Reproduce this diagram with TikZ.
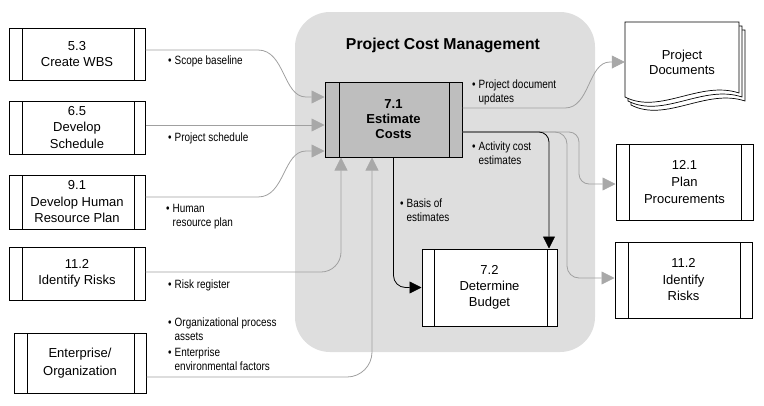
\documentclass[tikz,border=0pt]{standalone}
\usepackage{fontspec}
\setmainfont{Liberation Sans}
\newfontfamily\condfont[FakeStretch=0.83]{Liberation Sans}
\usetikzlibrary{arrows.meta,calc}
\definecolor{bgc}{RGB}{222,222,222}
\definecolor{estc}{RGB}{190,190,190}
\definecolor{linec}{RGB}{160,160,160}
\definecolor{arrc}{RGB}{168,168,168}
\begin{document}
\begin{tikzpicture}[x=1pt,y=-1pt,
  proc/.style={draw=black, line width=1pt, fill=white, minimum width=136pt,
    minimum height=53pt, inner sep=0pt, align=center,
    font=\fontsize{13}{16.5}\selectfont},
  bars/.style 2 args={path picture={
    \draw[line width=1pt]
      ([xshift=#1pt]path picture bounding box.north west) -- ([xshift=#1pt]path picture bounding box.south west)
      ([xshift=-#2pt]path picture bounding box.north east) -- ([xshift=-#2pt]path picture bounding box.south east);}},
  gl/.style={draw=linec, line width=0.8pt, -{Triangle[length=13pt,width=13pt,color=arrc]}},
  bk/.style={draw=black, line width=0.8pt, -{Triangle[length=12pt,width=12pt]}},
  lab/.style={anchor=base west, inner sep=0pt, font=\condfont\fontsize{12}{14.5}\selectfont},
  page/.style={draw=black, line width=0.7pt, fill=white}
]
\useasboundingbox (0,0) rectangle (764,405);

% process group background
\node[fill=bgc, rounded corners=35pt, minimum width=300pt, minimum height=340pt, inner sep=0pt] (pcm) at (445,182) {};
\node[font=\bfseries\fontsize{15.8}{18}\selectfont] (title) at (443,45) {Project Cost Management};

% left inputs
\node[proc,bars={13}{11}, minimum height=52pt] (wbs) at (77,54) {5.3\\Create WBS};
\node[proc,bars={13}{11}] (sched) at (77,127.5) {6.5\\Develop\\Schedule};
\node[proc,bars={13}{11}, minimum height=54pt] (hr) at (77,202) {9.1\\Develop Human\\Resource Plan};
\node[proc,bars={13}{11}] (risks) at (77,273.5) {11.2\\Identify Risks};
\node[proc,bars={13}{12}, minimum width=132pt, minimum height=60pt,
  font=\fontsize{13}{18}\selectfont] (ent) at (80,363) {Enterprise/\\Organization};

% central processes
\node[proc,bars={14}{13}, fill=estc, minimum width=137pt, minimum height=75pt,
  font=\bfseries\fontsize{13}{15}\selectfont] (ec) at (393.5,119.5) {7.1\\Estimate\\Costs};
\node[proc,bars={12}{10}, minimum width=135pt, minimum height=77pt,
  font=\fontsize{13}{16}\selectfont] (db) at (489.5,287.5) {7.2\\Determine\\Budget};

% right outputs
\node[proc,bars={13}{12}, minimum width=137pt, minimum height=76pt,
  font=\fontsize{13}{17}\selectfont] (pp) at (684.5,182) {12.1\\Plan\\Procurements};
\node[proc,bars={13}{12}, minimum width=137pt, minimum height=76pt,
  font=\fontsize{13}{16.5}\selectfont] (ir) at (683.5,280) {11.2\\Identify\\Risks};

% document stack
\draw[page] (631,30) -- (745,30) -- (745,101) .. controls (706,88) and (666,123) .. (631,105) -- cycle;
\draw[page] (628,26) -- (742,26) -- (742,97) .. controls (703,84) and (663,119) .. (628,101) -- cycle;
\draw[page] (625,22) -- (739,22) -- (739,93) .. controls (700,80) and (660,115) .. (625,97) -- cycle;
\node[inner sep=0pt, minimum width=114pt, minimum height=70pt, align=center,
  font=\fontsize{13}{15}\selectfont] (doc) at (682,62) {Project\\Documents};

% inputs to 7.1
\draw[gl] ([yshift=4pt]wbs.east) -- (258,50) .. controls (285,50) and (283,97) .. (306,97) -- ([yshift=22.5pt]ec.west);
\draw[gl] ([yshift=2.5pt]sched.east) -- ([yshift=2.5pt]sched.east -| ec.west);
\draw[gl] ([yshift=5pt]hr.east) -- (258,197) .. controls (285,197) and (283,151) .. (306,151) -- ([yshift=-31.5pt]ec.west);
\draw[gl, rounded corners=20pt] ([yshift=1.5pt]risks.east) -| ([xshift=-52.5pt]ec.south);
\draw[gl, rounded corners=25pt] ([yshift=-14pt]ent.east) -| ([xshift=-21.5pt]ec.south);

% outputs of 7.1
\draw[gl] ([yshift=11.5pt]ec.east) -- (565,108) .. controls (590,108) and (588,62) .. (610,62) -- ([yshift=0pt]doc.west);
\draw[gl, rounded corners=12pt] ([yshift=-12.5pt]ec.east) -- (567,132) -- (567,278) -- ([yshift=2pt]ir.west);
\draw[gl, rounded corners=10pt] ([yshift=-12.5pt]ec.east) -- (579,132) -- (579,184) -- ([yshift=-2pt]pp.west);
\draw[bk, rounded corners=10pt] ([yshift=-12.5pt]ec.east) -| ([xshift=59.5pt]db.north);
\draw[bk, rounded corners=12pt] (ec.south) |- (db.west);

% labels
\node[lab] (l1) at (168,64) {\begin{tabular}[t]{@{}l@{\hspace{3pt}}l@{}}\textbullet & Scope baseline\end{tabular}};
\node[lab] (l2) at (168,141) {\begin{tabular}[t]{@{}l@{\hspace{3pt}}l@{}}\textbullet & Project schedule\end{tabular}};
\node[lab] (l3) at (166,212) {\begin{tabular}[t]{@{}l@{\hspace{3pt}}l@{}}\textbullet & Human\\ & resource plan\end{tabular}};
\node[lab] (l4) at (168,288) {\begin{tabular}[t]{@{}l@{\hspace{3pt}}l@{}}\textbullet & Risk register\end{tabular}};
\node[lab] (l5) at (168,326) {\begin{tabular}[t]{@{}l@{\hspace{3pt}}l@{}}\textbullet & Organizational process\\ & assets\end{tabular}};
\node[lab] (l6) at (168,356) {\begin{tabular}[t]{@{}l@{\hspace{3pt}}l@{}}\textbullet & Enterprise\\ & environmental factors\end{tabular}};
\node[lab] (l7) at (472,88) {\begin{tabular}[t]{@{}l@{\hspace{3pt}}l@{}}\textbullet & Project document\\ & updates\end{tabular}};
\node[lab] (l8) at (472,150) {\begin{tabular}[t]{@{}l@{\hspace{3pt}}l@{}}\textbullet & Activity cost\\ & estimates\end{tabular}};
\node[lab] (l9) at (400,207) {\begin{tabular}[t]{@{}l@{\hspace{3pt}}l@{}}\textbullet & Basis of\\ & estimates\end{tabular}};
\end{tikzpicture}
\end{document}
